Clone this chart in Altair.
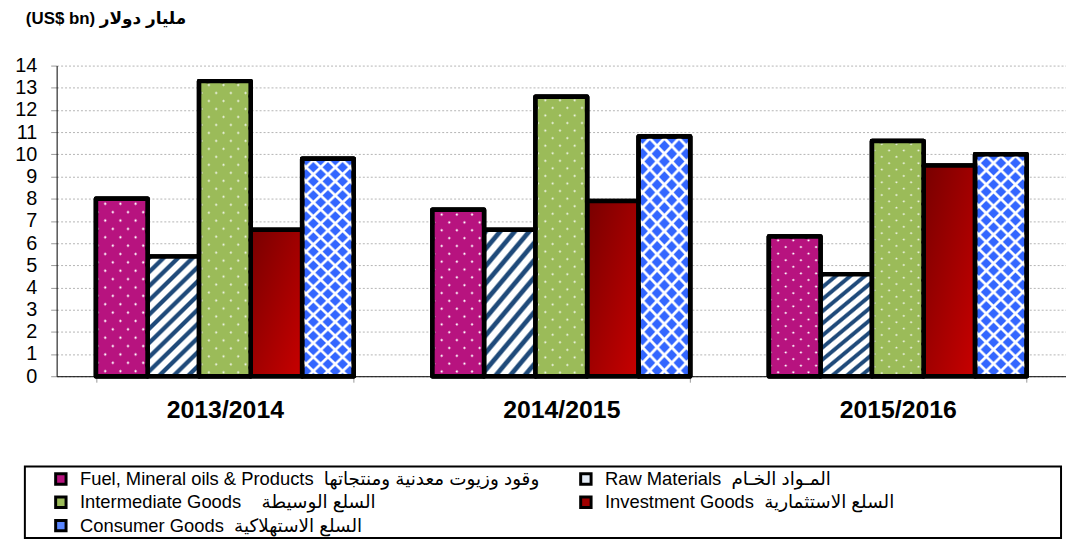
import altair as alt
import pandas as pd

# ---------------- data ----------------
periods = ["2013/2014", "2014/2015", "2015/2016"]
keys = ["fuel", "raw", "inter", "invest", "cons"]
NB = "\u00a0"
labels = [
    "Fuel, Mineral oils & Products" + NB * 2 + "وقود وزيوت معدنية ومنتجاتها",
    "Raw Materials" + NB * 2 + "المـواد الخـام",
    "Intermediate Goods" + NB * 4 + "السلع الوسيطة",
    "Investment Goods" + NB * 2 + "السلع الاستثمارية" + NB * 32 + "\u200b",
    "Consumer Goods" + NB * 2 + "السلع الاستهلاكية",
]
fuel = [8.0, 7.5, 6.3]
raw = [5.4, 6.6, 4.6]
intermediate = [13.3, 12.6, 10.6]
investment = [6.6, 7.9, 9.5]
consumer = [9.8, 10.8, 10.0]
y_ticks = list(range(0, 15))
title_text = "(US$ bn) مليار دولار"

series_values = [fuel, raw, intermediate, investment, consumer]
rows = []
for i, p in enumerate(periods):
    for k, lab, vals in zip(keys, labels, series_values):
        rows.append({"period": p, "key": k, "label": lab, "value": vals[i]})
df = pd.DataFrame(rows)

# ---------------- styles ----------------
FONT = "Liberation Sans, Arial, DejaVu Sans"
base_colors = ["#B7137F", "#E4ECF6", "#9BBB59", "#A00000", "#5A86FF"]
# legend is filled column by column: Fuel, Intermediate, Consumer | Raw, Investment
legend_order = [0, 2, 4, 1, 3]
legend_domain = [labels[i] for i in legend_order]
legend_range = [base_colors[i] for i in legend_order]

MAGENTA = "#B7137F"
MAGENTA_CLEAR = "rgba(183,19,127,0)"
GREEN = "#9BBB59"
GREEN_CLEAR = "rgba(155,187,89,0)"
NAVY = "#1F4A7A"
BLUE = "#3366FF"
WHITE = "#FFFFFF"
WHITE_CLEAR = "rgba(255,255,255,0)"
SW = 4.5


def diag(a, kind):
    f = (a + 1.0) / (a * a + 1.0)
    if kind == "/":
        return dict(x1=0, y1=0, x2=round(a * f, 4), y2=round(f, 4))
    return dict(x1=0, y1=1, x2=round(a * f, 4), y2=round(1 - f, 4))


def stripes(c1, c2, n, frac, a, kind, soft=0.14):
    h = soft / 2.0
    stops = []
    for k in range(n):
        s, m, e = k / n, (k + frac) / n, (k + 1) / n
        stops += [
            alt.GradientStop(color=c1, offset=round(s + h / n, 5)),
            alt.GradientStop(color=c1, offset=round(m - h / n, 5)),
            alt.GradientStop(color=c2, offset=round(m + h / n, 5)),
            alt.GradientStop(color=c2, offset=round(e - h / n, 5)),
        ]
    return alt.LinearGradient(gradient="linear", stops=stops, **diag(a, kind))


red_grad = alt.LinearGradient(
    gradient="linear",
    stops=[alt.GradientStop(color="#780000", offset=0),
           alt.GradientStop(color="#C80000", offset=1)],
    x1=0, y1=0, x2=1, y2=1,
)

x_enc = alt.X(
    "period:N", sort=periods,
    scale=alt.Scale(paddingInner=0.234, paddingOuter=0.117),
    axis=alt.Axis(title=None, labelAngle=0, labelFontSize=25, labelFontWeight="bold",
                  labelColor="black", labelFont=FONT, labelPadding=16,
                  tickBand="extent", tickSize=6, tickColor="#999999",
                  domainColor="black", domainWidth=1, grid=False),
)
xo_enc = alt.XOffset("key:N", sort=keys,
                     scale=alt.Scale(domain=keys, paddingInner=0, paddingOuter=0))
y_enc = alt.Y(
    "value:Q", scale=alt.Scale(domain=[0, 14], nice=False),
    axis=alt.Axis(title=None, values=y_ticks, labelFontSize=20, labelFont=FONT,
                  labelColor="black", labelPadding=14, tickSize=6, tickColor="#999999",
                  domainColor="black", domainWidth=1, gridColor="#B4B4B4",
                  gridDash=[2, 2], gridWidth=1),
)

base = alt.Chart(df).mark_bar(stroke="black", strokeWidth=SW, strokeJoin="round").encode(
    x=x_enc, xOffset=xo_enc, y=y_enc,
    color=alt.Color(
        "label:N", sort=legend_domain,
        scale=alt.Scale(domain=legend_domain, range=legend_range),
        legend=alt.Legend(
            title=None, orient="none", legendX=-32, legendY=404,
            columns=2, gridAlign="all", columnPadding=13, rowPadding=4.5,
            clipHeight=19,
            labelFontSize=18.5, labelFont=FONT, labelColor="black", labelLimit=1000,
            labelOffset=10, symbolType="square", symbolSize=110, symbolOffset=24,
            symbolStrokeColor="black", symbolStrokeWidth=3,
            strokeColor="black", padding=3,
        ),
    ),
)


def overlay(key, fill):
    return alt.Chart(df).transform_filter(alt.datum.key == key).mark_bar(
        fill=fill, stroke="black", strokeWidth=SW, strokeJoin="round"
    ).encode(x=x_enc, xOffset=xo_enc, y=y_enc)


layers = [
    base,
    overlay("invest", red_grad),
    overlay("raw", stripes(NAVY, WHITE, 12, 0.42, 0.42, "/")),
    overlay("fuel", stripes(MAGENTA, WHITE, 14, 0.82, 0.32, "/")),
    overlay("fuel", stripes(MAGENTA, MAGENTA_CLEAR, 14, 0.82, 0.32, "\\")),
    overlay("inter", stripes(GREEN, "#E9F0DC", 22, 0.82, 0.19, "/")),
    overlay("inter", stripes(GREEN, GREEN_CLEAR, 22, 0.82, 0.19, "\\")),
    overlay("cons", stripes(BLUE, WHITE, 19, 0.74, 0.228, "/")),
    overlay("cons", stripes(WHITE, WHITE_CLEAR, 19, 0.26, 0.228, "\\")),
]

chart = alt.layer(*layers).properties(
    width=1017, height=313,
    padding={"left": 49, "top": 56, "right": 0, "bottom": 165},
    autosize=alt.AutoSizeParams(type="none"),
    title=alt.TitleParams(text=title_text, anchor="start", frame="group", dx=-31,
                          offset=28, fontSize=17, fontWeight="bold", font=FONT,
                          color="black"),
).configure_view(strokeWidth=0).configure_legend(strokeWidth=2)

chart.save("out.html", embed_options={"renderer": "svg", "actions": False})
